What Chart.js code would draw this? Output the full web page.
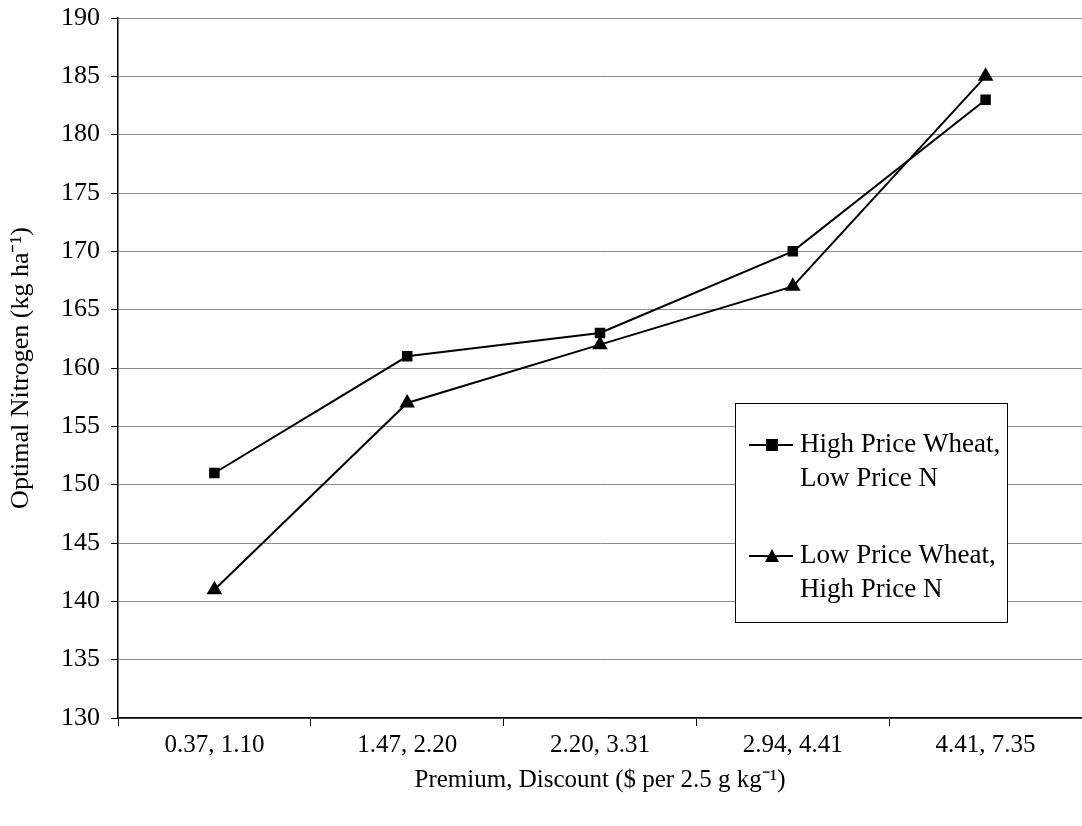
<!DOCTYPE html>
<html>
<head>
<meta charset="utf-8">
<script src="https://cdn.jsdelivr.net/npm/chart.js@4"></script>
<style>
  html, body { margin: 0; padding: 0; background: #fff; overflow: hidden; }
  canvas { display: block; }
</style>
</head>
<body>
<canvas id="chart" width="1082" height="826"></canvas>
<script>
var categories = ['0.37, 1.10', '1.47, 2.20', '2.20, 3.31', '2.94, 4.41', '4.41, 7.35'];
var highWheatLowN = [151, 161, 163, 170, 183];
var lowWheatHighN = [141, 157, 162, 167, 185];
var seriesNames = [['High Price Wheat,', 'Low Price N'], ['Low Price Wheat,', 'High Price N']];

var FONT = '"Liberation Serif", "Times New Roman", serif';

// legend box drawn inside the plot, like the original
var boxLegend = {
    id: 'boxLegend',
    afterDraw: function(chart) {
        var ctx = chart.ctx;
        var x = 735, y = 403, w = 272, h = 219;
        ctx.save();
        ctx.fillStyle = '#fff';
        ctx.fillRect(x, y, w, h);
        ctx.strokeStyle = '#000';
        ctx.lineWidth = 1;
        ctx.strokeRect(x + 0.5, y + 0.5, w, h);
        ctx.font = '27px ' + FONT;
        ctx.textBaseline = 'middle';
        ctx.fillStyle = '#000';
        var rows = [445, 556];
        chart.data.datasets.forEach(function(ds, i) {
            var cy = rows[i];
            ctx.beginPath();
            ctx.moveTo(749, cy);
            ctx.lineTo(793, cy);
            ctx.lineWidth = 2;
            ctx.stroke();
            ctx.beginPath();
            if (ds.pointStyle === 'rect') {
                ctx.fillRect(766, cy - 6, 12, 12);
            } else {
                ctx.moveTo(772, cy - 7);
                ctx.lineTo(779, cy + 6);
                ctx.lineTo(765, cy + 6);
                ctx.closePath();
                ctx.fill();
            }
            ctx.fillText(seriesNames[i][0], 800, cy);
            ctx.fillText(seriesNames[i][1], 800, cy + 34);
        });
        ctx.restore();
    }
};

var ctx = document.getElementById('chart').getContext('2d');
new Chart(ctx, {
    type: 'line',
    data: {
        labels: categories,
        datasets: [{
            label: 'High Price Wheat, Low Price N',
            data: highWheatLowN,
            borderColor: '#000',
            backgroundColor: '#000',
            borderWidth: 2,
            pointStyle: 'rect',
            pointRadius: 6,
            pointHoverRadius: 6,
            tension: 0
        }, {
            label: 'Low Price Wheat, High Price N',
            data: lowWheatHighN,
            borderColor: '#000',
            backgroundColor: '#000',
            borderWidth: 2,
            pointStyle: 'triangle',
            pointRadius: 7,
            pointHoverRadius: 7,
            tension: 0
        }]
    },
    options: {
        responsive: false,
        animation: false,
        layout: { autoPadding: false, padding: { top: 18, right: 0, left: 0, bottom: 0 } },
        plugins: {
            legend: { display: false },
            tooltip: { enabled: false }
        },
        scales: {
            x: {
                offset: true,
                grid: { offset: true, drawOnChartArea: false, color: '#000', tickLength: 8 },
                border: { color: '#000', width: 1.5 },
                ticks: { color: '#000', font: { family: FONT, size: 25 }, padding: 4, maxRotation: 0 },
                title: { display: true, text: 'Premium, Discount ($ per 2.5 g kg\u207B\u00B9)', color: '#000', font: { family: FONT, size: 25 }, padding: { top: 0, bottom: 31 } },
                afterFit: function(s) { s.height = 108; s.paddingLeft = 0; s.paddingRight = 0; }
            },
            y: {
                min: 130,
                max: 190,
                ticks: { stepSize: 5, color: '#000', font: { family: FONT, size: 26 }, padding: 11 },
                grid: { color: '#8c8c8c', tickColor: '#000', tickLength: 7, lineWidth: 1 },
                border: { color: '#000', width: 1.5 },
                title: { display: true, text: 'Optimal Nitrogen (kg ha\u207B\u00B9)', color: '#000', font: { family: FONT, size: 26 }, padding: { top: 6, bottom: 4 } },
                afterFit: function(s) { s.width = 118; s.paddingTop = 0; s.paddingBottom = 0; }
            }
        }
    },
    plugins: [boxLegend]
});
</script>
</body>
</html>
